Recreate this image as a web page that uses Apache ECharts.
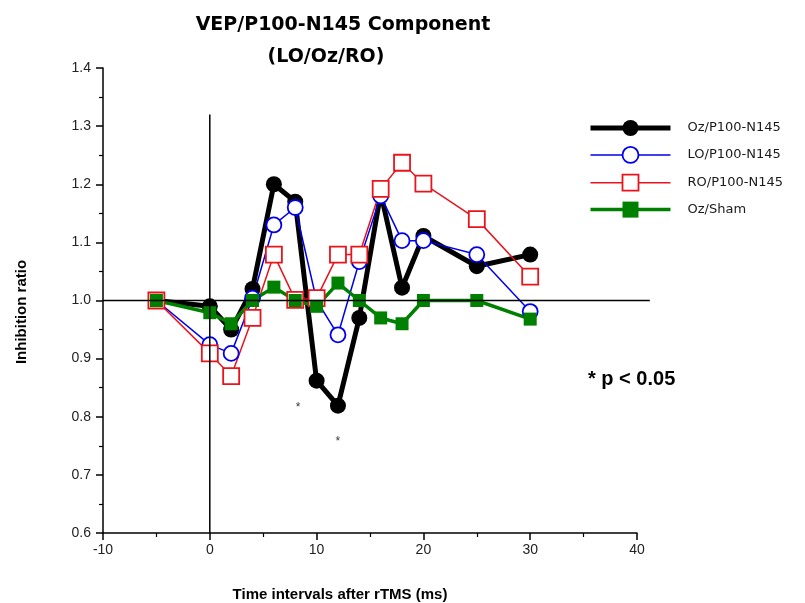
<!DOCTYPE html>
<html>
<head>
<meta charset="utf-8">
<script src="https://cdn.jsdelivr.net/npm/echarts@6/dist/echarts.min.js"></script>
<style>html,body{margin:0;padding:0;background:#fff;}#c{width:805px;height:603px;}</style>
</head>
<body>
<div id="c"></div>
<script>
// ---- data ----
const timeIntervals = [-5, 0, 2, 4, 6, 8, 10, 12, 14, 16, 18, 20, 25, 30];
const ozP100 = [1.0, 0.99, 0.95, 1.02, 1.2, 1.17, 0.862, 0.819, 0.97, 1.185, 1.022, 1.111, 1.059, 1.079];
const loP100 = [1.0, 0.924, 0.909, 1.004, 1.13, 1.16, 1.0, 0.941, 1.067, 1.18, 1.103, 1.103, 1.079, 0.981];
const roP100 = [1.0, 0.909, 0.87, 0.97, 1.079, 1.001, 1.004, 1.079, 1.079, 1.192, 1.237, 1.201, 1.14, 1.041];
const ozSham = [1.0, 0.979, 0.96, 1.0, 1.023, 1.0, 0.99, 1.03, 1.0, 0.97, 0.96, 1.0, 1.0, 0.968];
const seriesNames = ['Oz/P100-N145', 'LO/P100-N145', 'RO/P100-N145', 'Oz/Sham'];
const xTicks = [-10, 0, 10, 20, 30, 40];
const yTicks = [0.6, 0.7, 0.8, 0.9, 1.0, 1.1, 1.2, 1.3, 1.4];
const starPoints = [[8.27, 0.82], [11.98, 0.762]];
const refVertical = [[0, 0.6], [0, 1.32]];
const refHorizontal = [[-10, 1.0], [41.2, 1.0]];

const pair = (ys) => timeIntervals.map((x, i) => [x, ys[i]]);

const styles = [
  {symbol: 'circle', size: 16, line: {color: '#000', width: 5}, item: {color: '#000', borderColor: '#000', borderWidth: 0}},
  {symbol: 'circle', size: 15, line: {color: '#0000ee', width: 1.5}, item: {color: '#fff', borderColor: '#0000ee', borderWidth: 1.8}},
  {symbol: 'rect', size: 16, line: {color: '#e8141c', width: 1.5}, item: {color: '#fff', borderColor: '#e8141c', borderWidth: 1.8}},
  {symbol: 'rect', size: 13, line: {color: '#008000', width: 3.5}, item: {color: '#008000', borderColor: '#008000', borderWidth: 0}}
];
const seriesData = [ozP100, loP100, roP100, ozSham];

const chart = echarts.init(document.getElementById('c'), null, {renderer: 'canvas'});
const axisCommon = {
  axisLine: {show: true, onZero: false, lineStyle: {color: '#000', width: 1.5}},
  axisTick: {show: true, inside: false, length: 7, lineStyle: {color: '#000', width: 1.5}},
  minorTick: {show: true, splitNumber: 2, length: 4, lineStyle: {color: '#000', width: 1.2}},
  splitLine: {show: false},
  axisLabel: {color: '#222', fontSize: 14, fontFamily: 'Liberation Sans'}
};

const mainSeries = seriesNames.map((name, i) => ({
  name, type: 'line', data: pair(seriesData[i]), z: 2,
  symbol: styles[i].symbol, symbolSize: styles[i].size, showAllSymbol: true,
  lineStyle: styles[i].line, itemStyle: styles[i].item
}));

const baseGraphic = [
  {type: 'text', x: 343, y: 25, style: {text: 'VEP/P100-N145 Component', font: 'bold 19px "DejaVu Sans"', fill: '#000', textAlign: 'center', textVerticalAlign: 'middle'}},
  {type: 'text', x: 326, y: 57, style: {text: '(LO/Oz/RO)', font: 'bold 19px "DejaVu Sans"', fill: '#000', textAlign: 'center', textVerticalAlign: 'middle'}},
  {type: 'text', x: 22, y: 312, rotation: Math.PI / 2, style: {text: 'Inhibition ratio', font: 'bold 15px "Liberation Sans"', fill: '#000', textAlign: 'center', textVerticalAlign: 'middle'}},
  {type: 'text', x: 340, y: 595, style: {text: 'Time intervals after rTMS (ms)', font: 'bold 15px "Liberation Sans"', fill: '#000', textAlign: 'center', textVerticalAlign: 'middle'}},
  {type: 'text', x: 588, y: 379, style: {text: '* p < 0.05', font: 'bold 20px "Liberation Sans"', fill: '#000', textAlign: 'left', textVerticalAlign: 'middle'}}
];

chart.setOption({
  animation: false,
  backgroundColor: '#fff',
  grid: {left: 103, right: 168, top: 68, bottom: 70},
  xAxis: Object.assign({}, axisCommon, {
    type: 'value', min: xTicks[0], max: xTicks[xTicks.length - 1], interval: 10,
    axisLabel: Object.assign({}, axisCommon.axisLabel, {margin: 10})
  }),
  yAxis: Object.assign({}, axisCommon, {
    type: 'value', min: yTicks[0], max: yTicks[yTicks.length - 1], interval: 0.1,
    axisLabel: Object.assign({}, axisCommon.axisLabel, {margin: 12, formatter: v => v.toFixed(1)})
  }),
  legend: {
    orient: 'vertical', left: 588, top: 120, padding: 0, itemWidth: 80, itemHeight: 20, itemGap: 10,
    data: seriesNames.map((name, i) => ({
      name,
      itemStyle: styles[i].item,
      lineStyle: styles[i].line
    })),
    textStyle: {fontFamily: 'DejaVu Sans', fontSize: 13, color: '#1a1a1a', padding: [0, 0, 0, 12]}
  },
  graphic: baseGraphic,
  series: mainSeries.concat([
    {
      name: 'stars', type: 'scatter', data: starPoints, symbolSize: 1, z: 4, silent: true,
      itemStyle: {color: 'rgba(0,0,0,0)'},
      label: {show: true, position: 'inside', formatter: '*', color: '#000', fontSize: 12, fontFamily: 'Liberation Sans', offset: [0, 3]}
    },
    {
      name: 'refV', type: 'line', data: refVertical, z: 5, silent: true,
      symbol: 'none', lineStyle: {color: '#000', width: 1.5}
    }
  ])
});

// horizontal reference line at 1.0, extending slightly past the x-axis end
const p1 = chart.convertToPixel({gridIndex: 0}, refHorizontal[0]);
const p2 = chart.convertToPixel({gridIndex: 0}, refHorizontal[1]);
chart.setOption({
  graphic: baseGraphic.concat([{
    type: 'line', z: 10, silent: true,
    shape: {x1: p1[0], y1: p1[1], x2: p2[0], y2: p2[1]},
    style: {stroke: '#000', lineWidth: 1.5}
  }])
});
</script>
</body>
</html>
